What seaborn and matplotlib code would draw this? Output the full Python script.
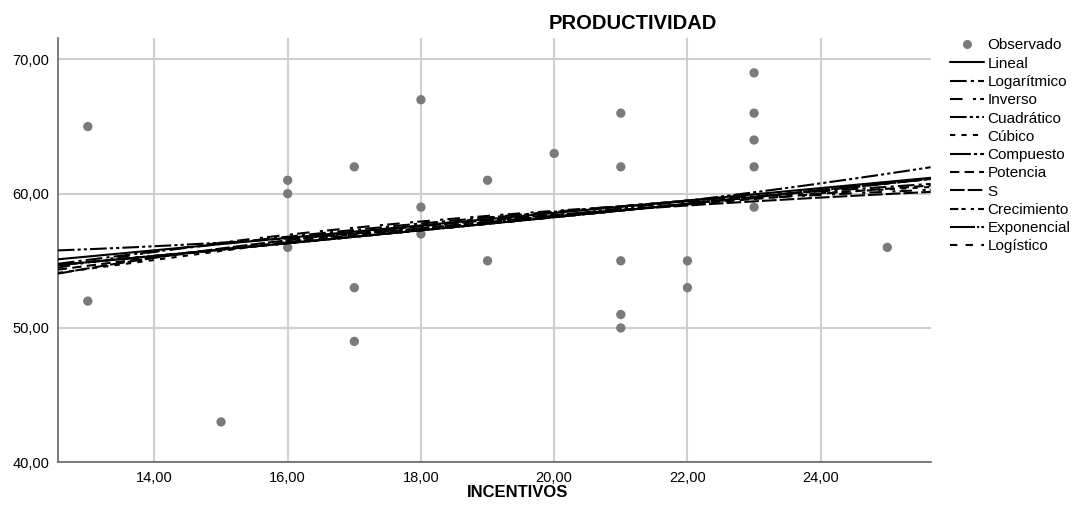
import numpy as np
import pandas as pd
import matplotlib
matplotlib.use('Agg')
import matplotlib.pyplot as plt
import seaborn as sns
from matplotlib.lines import Line2D

# Datos observados
incentivos = [13, 13, 15, 16, 16, 16, 17, 17, 17, 18, 18, 18, 19, 19, 20,
              21, 21, 21, 21, 21, 22, 22, 23, 23, 23, 23, 23, 25]
productividad = [65, 52, 43, 61, 60, 56, 62, 53, 49, 67, 59, 57, 61, 55, 63,
                 66, 62, 55, 51, 50, 55, 53, 69, 66, 64, 62, 59, 56]

# Curva cúbica (casi recta)
cubico_x = [12.55, 16.0, 19.0, 22.0, 25.65]
cubico_y = [54.1, 56.4, 58.2, 59.5, 60.5]

modelos = ['Lineal', 'Logarítmico', 'Inverso', 'Cuadrático', 'Cúbico', 'Compuesto',
           'Potencia', 'S', 'Crecimiento', 'Exponencial', 'Logístico']
x_ticks = [14, 16, 18, 20, 22, 24]
y_ticks = [40, 50, 60, 70]

estilos = {
    'Lineal': '-',
    'Logarítmico': (0, (8, 2, 1.5, 2)),
    'Inverso': (0, (6, 5, 1.5, 2)),
    'Cuadrático': (0, (8, 1.5, 1.5, 1.5, 1.5, 1.5)),
    'Cúbico': (0, (2.5, 3)),
    'Compuesto': (0, (10, 1.5, 1.5, 1.5)),
    'Potencia': (0, (4.5, 2.5)),
    'S': (0, (7, 1.5)),
    'Crecimiento': (0, (4, 1.5, 2, 2.5, 1.5, 2)),
    'Exponencial': (0, (12, 1, 1, 1)),
    'Logístico': (0, (3.5, 4)),
}

x = np.array(incentivos, dtype=float)
y = np.array(productividad, dtype=float)
xs = np.linspace(12.55, 25.65, 200)


def ajustar(nombre):
    if nombre == 'Lineal':
        return xs, np.polyval(np.polyfit(x, y, 1), xs)
    if nombre == 'Logarítmico':
        return xs, np.polyval(np.polyfit(np.log(x), y, 1), np.log(xs))
    if nombre == 'Inverso':
        return xs, np.polyval(np.polyfit(1 / x, y, 1), 1 / xs)
    if nombre == 'Cuadrático':
        return xs, np.polyval(np.polyfit(x, y, 2), xs)
    if nombre == 'Cúbico':
        return np.array(cubico_x), np.array(cubico_y)
    if nombre == 'Potencia':
        return xs, np.exp(np.polyval(np.polyfit(np.log(x), np.log(y), 1), np.log(xs)))
    if nombre == 'S':
        return xs, np.exp(np.polyval(np.polyfit(1 / x, np.log(y), 1), 1 / xs))
    # Compuesto, Crecimiento, Exponencial, Logístico
    return xs, np.exp(np.polyval(np.polyfit(x, np.log(y), 1), xs))


partes = []
for m in modelos:
    cx, cy = ajustar(m)
    partes.append(pd.DataFrame({'x': cx, 'y': cy, 'modelo': m}))
curvas = pd.concat(partes)
obs = pd.DataFrame({'INCENTIVOS': incentivos, 'PRODUCTIVIDAD': productividad})

sns.set_style('white')
plt.rcParams['font.family'] = ['Liberation Sans', 'DejaVu Sans']
plt.rcParams['text.color'] = 'black'
plt.rcParams['xtick.color'] = 'black'
plt.rcParams['ytick.color'] = 'black'

fig = plt.figure(figsize=(10.91, 5.13), dpi=100)
ax = fig.add_axes([0.053, 0.099, 0.800, 0.827])

ax.grid(True, color='#cfcfcf', lw=1.5)
ax.set_axisbelow(True)

sns.scatterplot(data=obs, x='INCENTIVOS', y='PRODUCTIVIDAD', ax=ax, color='#7a7a7a',
                s=45, edgecolor='none', legend=False, zorder=2)

for m in modelos:
    d = curvas[curvas['modelo'] == m]
    sns.lineplot(data=d, x='x', y='y', ax=ax, color='black', lw=1.5,
                 linestyle=estilos[m], legend=False, zorder=3)

ax.set_xlim(12.55, 25.65)
ax.set_ylim(40, 71.6)
ax.set_xticks(x_ticks)
ax.set_yticks(y_ticks)
ax.set_xticklabels([f'{t:.2f}'.replace('.', ',') for t in x_ticks], fontsize=10.5)
ax.set_yticklabels([f'{t:.2f}'.replace('.', ',') for t in y_ticks], fontsize=10.5)
ax.tick_params(length=0, pad=6)
ax.set_xlabel('')
ax.set_ylabel('')
for s in ['top', 'right']:
    ax.spines[s].set_visible(False)
for s in ['left', 'bottom']:
    ax.spines[s].set_color('#666666')
    ax.spines[s].set_linewidth(1.2)

fig.text(0.58, 0.955, 'PRODUCTIVIDAD', ha='center', va='center', fontsize=14.5, fontweight='bold')
fig.text(0.474, 0.04, 'INCENTIVOS', ha='center', va='center', fontsize=12, fontweight='bold')

handles = [Line2D([], [], marker='o', color='#7a7a7a', linestyle='none', markersize=6.5,
                  markeredgecolor='none', label='Observado')]
for m in modelos:
    handles.append(Line2D([], [], color='black', lw=1.5, linestyle=estilos[m], label=m))
fig.legend(handles=handles, loc='upper left', bbox_to_anchor=(0.864, 0.94), frameon=False,
           fontsize=11, handlelength=2.2, handletextpad=0.25, labelspacing=0.28, borderpad=0)

fig.savefig('out.png', dpi=100)
